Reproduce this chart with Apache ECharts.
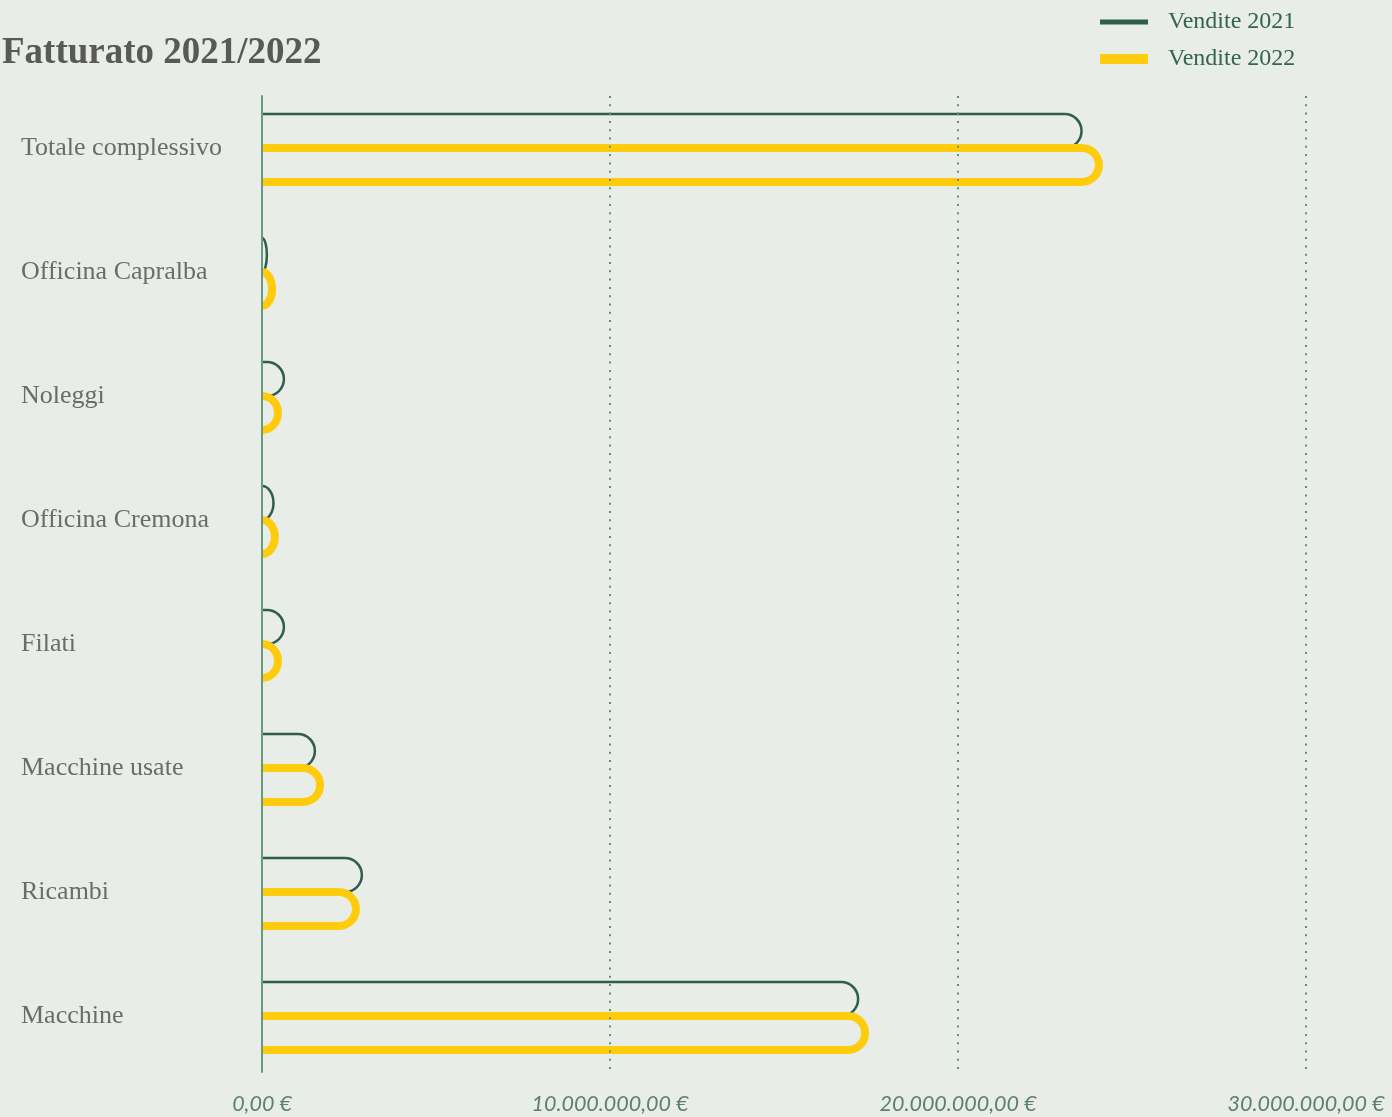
<!DOCTYPE html>
<html>
<head>
<meta charset="utf-8">
<title>Fatturato 2021/2022</title>
<script src="https://cdn.jsdelivr.net/npm/echarts@6/dist/echarts.min.js"></script>
<style>
  html, body { margin: 0; padding: 0; background: #e8ede8; }
  #chart { width: 1392px; height: 1117px; }
</style>
</head>
<body>
<div id="chart"></div>
<script>
// Business areas, top to bottom
const categories = [
  'Totale complessivo',
  'Officina Capralba',
  'Noleggi',
  'Officina Cremona',
  'Filati',
  'Macchine usate',
  'Ricambi',
  'Macchine'
];

// Revenue in euro
const sales2021 = [23550000, 140000, 630000, 330000, 630000, 1520000, 2870000, 17130000];
const sales2022 = [24050000, 290000, 460000, 370000, 460000, 1670000, 2700000, 17330000];

const seriesNames = ['Vendite 2021', 'Vendite 2022'];
const axisTicks = [0, 10000000, 20000000, 30000000];

const COLOR_2021 = '#2f5e4e';
const COLOR_2022 = '#ffcc0d';
const BG = '#e8ede8';

function formatEuro(v) {
  const intPart = Math.round(v).toString().replace(/\B(?=(\d{3})+(?!\d))/g, '.');
  return intPart + ',00 €';
}

// Outlined bar: top edge, rounded right end, bottom edge (open on the axis side)
function outlineBar(slot, stroke, lineWidth) {
  return function (params, api) {
    const value = api.value(0);
    const cat = api.value(1);
    const start = api.coord([0, cat]);
    const end = api.coord([value, cat]);
    const band = api.size([0, 1])[1];
    const h = band * 0.274;
    const yTop = start[1] + (slot === 0 ? -h : 0);
    const yBot = yTop + h;
    const r = h / 2;
    const x0 = start[0];
    const x1 = end[0];
    const w = x1 - x0;
    let d;
    if (w >= r) {
      d = 'M' + x0 + ',' + yTop + ' L' + (x1 - r) + ',' + yTop +
          ' A' + r + ',' + r + ' 0 0 1 ' + (x1 - r) + ',' + yBot +
          ' L' + x0 + ',' + yBot;
    } else {
      d = 'M' + x0 + ',' + yTop +
          ' A' + w + ',' + r + ' 0 0 1 ' + x0 + ',' + yBot;
    }
    return {
      type: 'path',
      shape: { pathData: d },
      style: { fill: 'none', stroke: stroke, lineWidth: lineWidth, lineCap: 'butt', lineJoin: 'round' }
    };
  };
}

const chart = echarts.init(document.getElementById('chart'), null, { renderer: 'canvas' });

const legendText = {
  color: '#336352',
  fontFamily: 'Liberation Serif',
  fontSize: 24,
  padding: [0, 0, 0, 15]
};

chart.setOption({
  backgroundColor: BG,
  animation: false,
  title: {
    text: 'Fatturato 2021/2022',
    left: -3,
    top: 30,
    textStyle: {
      color: '#595955',
      fontFamily: 'Liberation Serif',
      fontWeight: 'bold',
      fontSize: 37
    }
  },
  legend: [
    {
      data: [{ name: seriesNames[0], icon: 'rect', itemStyle: { color: COLOR_2021 } }],
      left: 1095, top: 5,
      itemWidth: 48, itemHeight: 5,
      textStyle: legendText,
      selectedMode: false
    },
    {
      data: [{ name: seriesNames[1], icon: 'rect', itemStyle: { color: COLOR_2022 } }],
      left: 1095, top: 42,
      itemWidth: 48, itemHeight: 10,
      textStyle: legendText,
      selectedMode: false
    }
  ],
  grid: [
    // frame: axis line, dotted gridlines, euro labels
    { left: 262, right: 86, top: 96, bottom: 45 },
    // bars and category labels
    { left: 262, right: 86, top: 86, bottom: 39 }
  ],
  xAxis: [
    {
      gridIndex: 0,
      type: 'value',
      min: axisTicks[0],
      max: axisTicks[axisTicks.length - 1],
      interval: axisTicks[1] - axisTicks[0],
      z: 5,
      axisLine: { show: false },
      axisTick: { show: false },
      splitLine: {
        show: true,
        lineStyle: { color: '#5f9275', width: 2, type: [2, 6.3] }
      },
      axisLabel: {
        margin: 21,
        color: '#5c8070',
        fontFamily: 'Lato',
        fontStyle: 'italic',
        fontSize: 21.5,
        formatter: formatEuro,
        showMinLabel: true,
        showMaxLabel: true
      }
    },
    {
      gridIndex: 1,
      type: 'value',
      min: axisTicks[0],
      max: axisTicks[axisTicks.length - 1],
      show: false
    }
  ],
  yAxis: [
    {
      gridIndex: 0,
      type: 'value',
      min: 0,
      max: 1,
      z: 6,
      axisLine: { show: true, onZero: false, lineStyle: { color: '#6a9a7c', width: 2 } },
      axisTick: { show: false },
      axisLabel: { show: false },
      splitLine: { show: false }
    },
    {
      gridIndex: 1,
      type: 'category',
      inverse: true,
      data: categories,
      axisLine: { show: false },
      axisTick: { show: false },
      splitLine: { show: false },
      axisLabel: {
        align: 'left',
        margin: 241,
        color: '#6b6b6b',
        fontFamily: 'Liberation Serif',
        fontSize: 26
      }
    }
  ],
  series: [
    {
      name: seriesNames[0],
      type: 'custom',
      xAxisIndex: 1,
      yAxisIndex: 1,
      z: 2,
      itemStyle: { color: COLOR_2021 },
      renderItem: outlineBar(0, COLOR_2021, 2.5),
      encode: { x: 0, y: 1 },
      data: sales2021.map((v, i) => [v, i])
    },
    {
      name: seriesNames[1],
      type: 'custom',
      xAxisIndex: 1,
      yAxisIndex: 1,
      z: 3,
      itemStyle: { color: COLOR_2022 },
      renderItem: outlineBar(1, COLOR_2022, 8),
      encode: { x: 0, y: 1 },
      data: sales2022.map((v, i) => [v, i])
    }
  ]
});
</script>
</body>
</html>
